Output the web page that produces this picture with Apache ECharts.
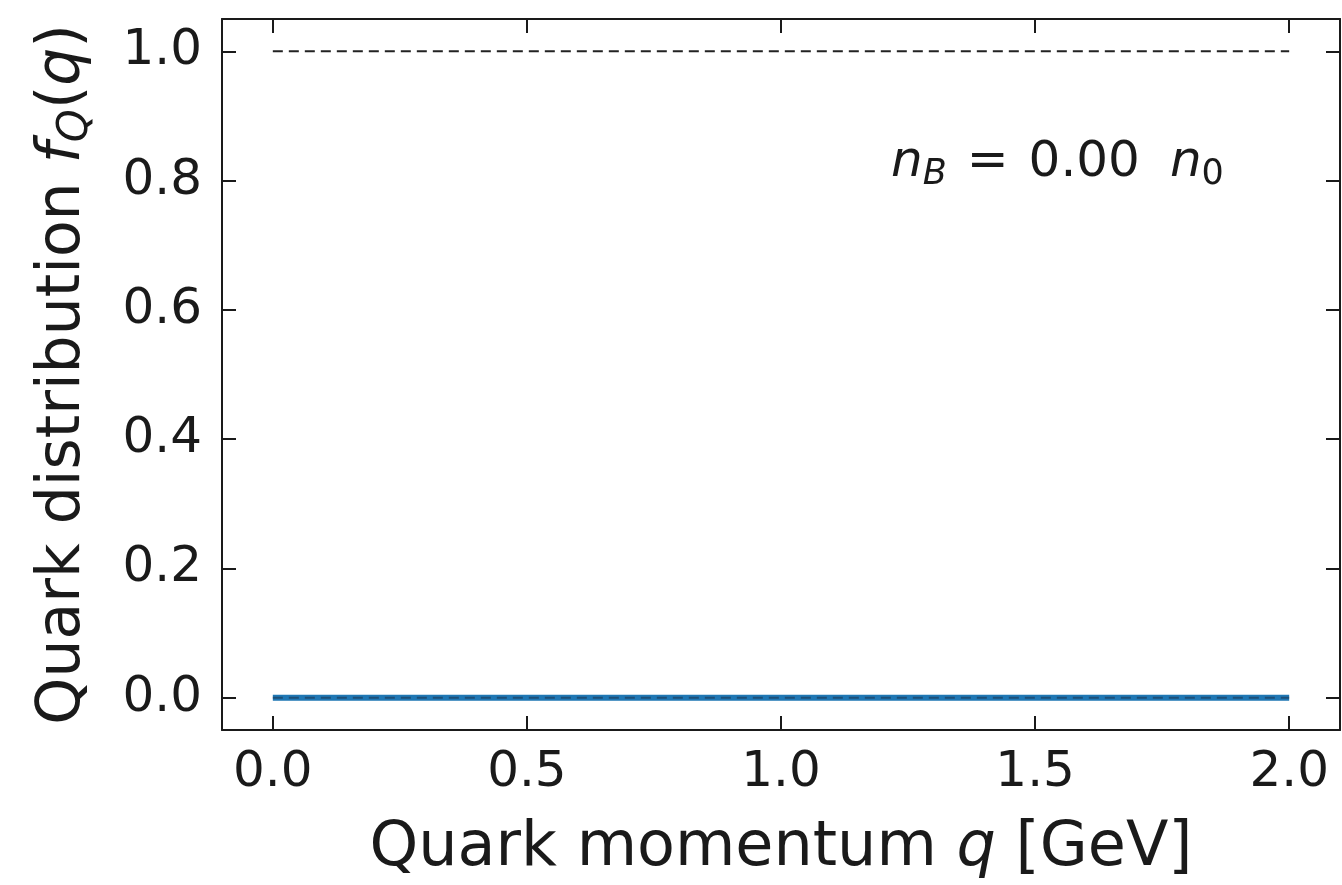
<!DOCTYPE html>
<html>
<head>
<meta charset="utf-8">
<script src="https://cdn.jsdelivr.net/npm/echarts@6/dist/echarts.min.js"></script>
<style>
  html, body { margin: 0; padding: 0; background: #fff; }
  #chart { width: 1342px; height: 885px; }
</style>
</head>
<body>
<div id="chart"></div>
<script>
// quark momentum q [GeV] and distribution f_Q(q) at n_B = 0
const qValues = [0.0, 0.5, 1.0, 1.5, 2.0];
const fQ = [0, 0, 0, 0, 0];
const refOne = [1, 1, 1, 1, 1];
const refZero = [0, 0, 0, 0, 0];
const xTicks = [0, 0.5, 1.0, 1.5, 2.0];
const yTicks = [0, 0.2, 0.4, 0.6, 0.8, 1.0];

const FONT = 'DejaVu Sans';
const INK = '#1a1a1a';

const pairs = (xs, ys) => xs.map((x, i) => [x, ys[i]]);

const chart = echarts.init(document.getElementById('chart'));

const axisLine = { show: true, onZero: false, lineStyle: { color: INK, width: 2 } };
const tick = (vals) => ({
  show: true, inside: true, length: 14, customValues: vals,
  lineStyle: { color: INK, width: 2 }
});

// mathtext-like label: n_B = 0.00 n_0
const txt = { fontFamily: FONT, fontWeight: 'normal', fontSize: 50, color: INK };
const sub = { fontFamily: FONT, fontWeight: 'normal', fontSize: 35, color: INK };

chart.setOption({
  animation: false,
  backgroundColor: '#fff',
  grid: { left: 222, right: 2, top: 19, bottom: 151 },
  title: {
    left: 886, top: 130,
    text: '{i|n}{sb|B}{eq|=}{t|0.00}{i2|n}{s0|0}',
    textStyle: {
      fontWeight: 'normal',
      rich: {
        i: { ...txt, fontStyle: 'italic' },
        i2: { ...txt, fontStyle: 'italic', padding: [0, 0, 0, 30] },
        eq: { ...txt, padding: [0, 20, 0, 20] },
        t: { ...txt },
        sb: { ...sub, fontStyle: 'italic', padding: [22, 0, 0, 0] },
        s0: { ...sub, padding: [22, 0, 0, 0] }
      }
    }
  },
  xAxis: [{
    type: 'value', min: -0.1, max: 2.1,
    axisLine, splitLine: { show: false },
    axisTick: tick(xTicks),
    axisLabel: {
      customValues: xTicks, margin: 18,
      formatter: v => v.toFixed(1),
      fontFamily: FONT, fontSize: 50, color: INK
    },
    name: '{t|Quark momentum }{i|q}{t| [GeV]}',
    nameLocation: 'middle', nameGap: 88,
    nameTextStyle: {
      rich: {
        t: { fontFamily: FONT, fontSize: 62, color: INK },
        i: { fontFamily: FONT, fontStyle: 'italic', fontSize: 62, color: INK }
      }
    }
  }, {
    type: 'value', min: -0.1, max: 2.1, position: 'top',
    axisLine, splitLine: { show: false },
    axisTick: tick(xTicks), axisLabel: { show: false }
  }],
  yAxis: [{
    type: 'value', min: -0.05, max: 1.05,
    axisLine, splitLine: { show: false },
    axisTick: tick(yTicks),
    axisLabel: {
      customValues: yTicks, margin: 20,
      formatter: v => v.toFixed(1),
      fontFamily: FONT, fontSize: 50, color: INK
    },
    name: '{t|Quark distribution }{i|f}{sq|Q}{t|(}{i|q}{t|)}',
    nameLocation: 'middle', nameGap: 125,
    nameTextStyle: {
      rich: {
        t: { fontFamily: FONT, fontSize: 60, color: INK },
        i: { fontFamily: FONT, fontStyle: 'italic', fontSize: 60, color: INK },
        sq: { fontFamily: FONT, fontStyle: 'italic', fontSize: 42, color: INK, padding: [26, 0, 0, 0] }
      }
    }
  }, {
    type: 'value', min: -0.05, max: 1.05, position: 'right',
    axisLine, splitLine: { show: false },
    axisTick: tick(yTicks), axisLabel: { show: false }
  }],
  series: [
    {
      type: 'line', data: pairs(qValues, fQ), showSymbol: false,
      lineStyle: { color: '#1f77b4', width: 6 }, z: 2
    },
    {
      type: 'line', data: pairs(qValues, refOne), showSymbol: false,
      lineStyle: { color: '#222', width: 2, type: [10, 6] }, z: 3
    },
    {
      type: 'line', data: pairs(qValues, refZero), showSymbol: false,
      lineStyle: { color: '#1a3550', width: 2, type: [10, 6], opacity: 0.6 }, z: 3
    }
  ]
});
</script>
</body>
</html>
